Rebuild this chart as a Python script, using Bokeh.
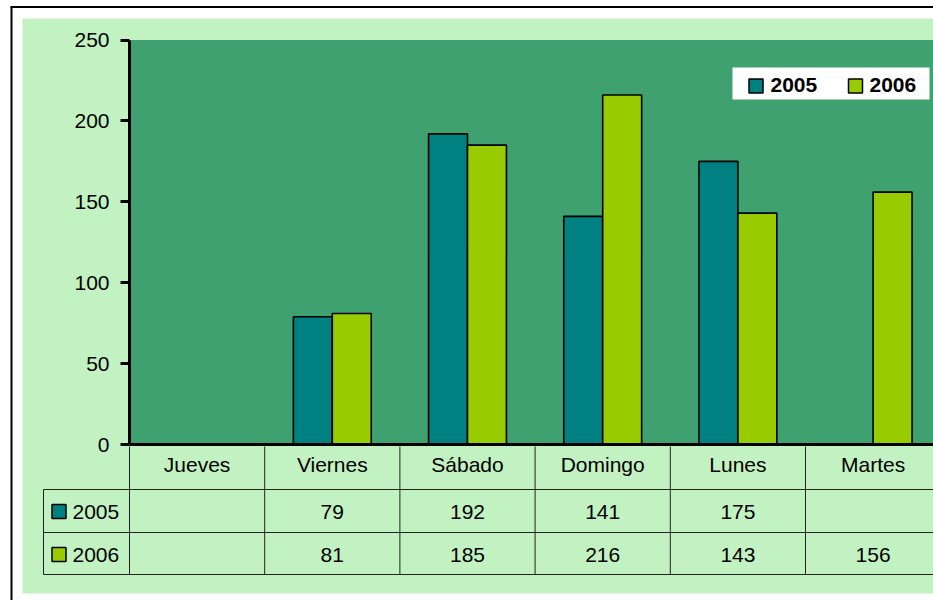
import math
from bokeh.plotting import figure
from bokeh.models import Range1d, LinearAxis, FixedTicker, ColumnDataSource
from bokeh.core.properties import value
from bokeh.embed import file_html
from bokeh.resources import INLINE

# ---------------- data ----------------
categories = ["Jueves", "Viernes", "Sábado", "Domingo", "Lunes", "Martes"]
series_names = ["2005", "2006"]
values_2005 = [None, 79, 192, 141, 175, None]
values_2006 = [None, 81, 185, 216, 143, 156]
y_ticks = [0, 50, 100, 150, 200, 250]

# ---------------- style ----------------
FONT = "Liberation Sans"
FS = "21px"
C2005 = "#008080"
C2006 = "#99CC00"
SERIES_COLORS = [C2005, C2006]
PLOT_BG = "#3FA070"
CHART_BG = "#C2F2C2"

# ---------------- layout (page pixels -> data units) ----------------
W, H = 933, 600
X0PX, CATPX = 129.0, 135.2
Y0PX, UNITPX = 444.0, 404.5 / 250.0


def X(px):
    return (px - X0PX) / CATPX


def Y(py):
    return (Y0PX - py) / UNITPX


n = len(categories)
centers = [i + 0.5 for i in range(n)]
bar_w = 0.288

p = figure(width=W, height=H, output_backend="svg", toolbar_location=None,
           x_range=Range1d(X(0), X(W)), y_range=Range1d(Y(H), Y(0)),
           x_axis_location=None, y_axis_location=None, min_border=0,
           background_fill_color="white", border_fill_color="white",
           outline_line_color=None)
p.xgrid.visible = False
p.ygrid.visible = False

# outer frame and chart background
p.quad(left=[X(22)], right=[X(950)], top=[Y(18)], bottom=[Y(593)],
       fill_color=CHART_BG, line_color=None)
p.line(x=[X(11), X(11)], y=[Y(6.5), Y(610)], line_color="black", line_width=2)
p.line(x=[X(10), X(950)], y=[Y(6.5), Y(6.5)], line_color="black", line_width=2)

# plot area
p.quad(left=[0], right=[n], top=[y_ticks[-1]], bottom=[0],
       fill_color=PLOT_BG, line_color=None)


def nanify(vals):
    return [float("nan") if v is None else v for v in vals]


src = ColumnDataSource(dict(
    x05=[c - bar_w / 2 for c in centers],
    x06=[c + bar_w / 2 for c in centers],
    v05=nanify(values_2005),
    v06=nanify(values_2006),
))
r05 = p.vbar(x="x05", top="v05", bottom=0, width=bar_w, source=src,
             fill_color=C2005, line_color="black", line_width=1.6)
r06 = p.vbar(x="x06", top="v06", bottom=0, width=bar_w, source=src,
             fill_color=C2006, line_color="black", line_width=1.6)

# y axis at the plot-area edge
yaxis = LinearAxis(fixed_location=0, bounds=(0, y_ticks[-1]),
                   ticker=FixedTicker(ticks=y_ticks, minor_ticks=[]))
yaxis.axis_line_width = 3
yaxis.axis_line_color = "black"
yaxis.major_tick_out = 9
yaxis.major_tick_in = 0
yaxis.major_tick_line_width = 3
yaxis.minor_tick_out = 0
yaxis.minor_tick_in = 0
yaxis.major_label_text_font = FONT
yaxis.major_label_text_font_size = FS
yaxis.major_label_text_color = "black"
yaxis.major_label_standoff = 11
p.add_layout(yaxis, "left")

# x axis (category labels)
xaxis = LinearAxis(fixed_location=0, bounds=(0, n),
                   ticker=FixedTicker(ticks=centers, minor_ticks=[]),
                   major_label_overrides={c: name for c, name in zip(centers, categories)})
xaxis.axis_line_width = 3
xaxis.axis_line_color = "black"
xaxis.major_tick_out = 0
xaxis.major_tick_in = 0
xaxis.minor_tick_out = 0
xaxis.minor_tick_in = 0
xaxis.major_label_text_font = FONT
xaxis.major_label_text_font_size = FS
xaxis.major_label_text_color = "black"
xaxis.major_label_standoff = 8
p.add_layout(xaxis, "below")

# data table grid
row_lines = [Y(489), Y(532), Y(574)]
row_centers = [Y(511), Y(554)]
p.segment(x0=list(range(n + 1)), x1=list(range(n + 1)),
          y0=[Y(446)] * (n + 1), y1=[Y(574)] * (n + 1),
          line_color="#222222", line_width=1)
p.segment(x0=[X(43)] * 3, x1=[X(950)] * 3, y0=row_lines, y1=row_lines,
          line_color="#222222", line_width=1)
p.segment(x0=[X(43)], x1=[X(43)], y0=[Y(489)], y1=[Y(574)],
          line_color="#222222", line_width=1)

# table values
for vals, yc in zip([values_2005, values_2006], row_centers):
    p.text(x=centers, y=[yc] * n, text=["" if v is None else str(v) for v in vals],
           text_font=value(FONT), text_font_size=FS, text_align="center",
           text_baseline="middle", text_color="black")

# table row headers
p.scatter(x=[X(58.5)] * 2, y=row_centers, marker="square", size=14,
          fill_color=SERIES_COLORS, line_color="black", line_width=1.5)
p.text(x=[X(72)] * 2, y=row_centers, text=series_names,
       text_font=value(FONT), text_font_size=FS, text_align="left",
       text_baseline="middle", text_color="black")

# legend (white box, keys and bold labels)
p.quad(left=[X(732)], right=[X(929)], top=[Y(67)], bottom=[Y(99)],
       fill_color="white", line_color=None)
p.scatter(x=[X(755.5), X(855)], y=[Y(85.5)] * 2, marker="square", size=14,
          fill_color=SERIES_COLORS, line_color="black", line_width=1.5)
p.text(x=[X(770), X(869)], y=[Y(84)] * 2, text=series_names,
       text_font=value(FONT), text_font_size=FS, text_font_style="bold",
       text_align="left", text_baseline="middle", text_color="black")

open("out.html", "w").write(file_html(p, INLINE))
